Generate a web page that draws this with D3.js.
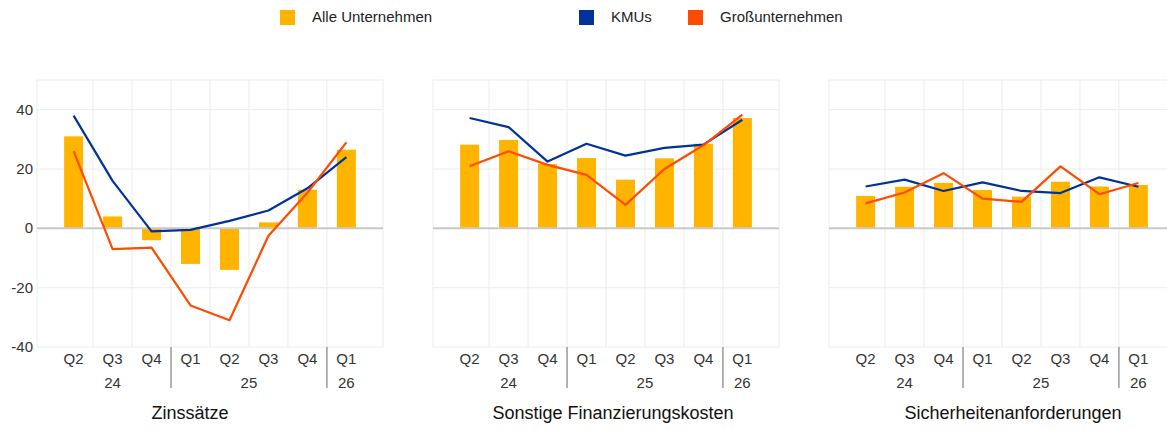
<!DOCTYPE html>
<html>
<head>
<meta charset="utf-8">
<script src="https://cdn.jsdelivr.net/npm/d3@7"></script>
<style>
  body { margin: 0; background: #fff; overflow: hidden; }
  svg { display: block; font-family: "Liberation Sans", Arial, sans-serif; }
</style>
</head>
<body>
<svg id="chart" width="1167" height="430"></svg>
<script>
// quarters and their years
const quarters = ["Q2", "Q3", "Q4", "Q1", "Q2", "Q3", "Q4", "Q1"];
const years = ["24", "24", "24", "25", "25", "25", "25", "26"];
const yTicks = [40, 20, 0, -20, -40];

const seriesNames = ["Alle Unternehmen", "KMUs", "Großunternehmen"];
const panelTitles = ["Zinssätze", "Sonstige Finanzierungskosten", "Sicherheitenanforderungen"];

// Alle Unternehmen (bars)
const allZins = [31, 4, -4, -12, -14, 2, 13, 26.5];
const allSonst = [28.2, 29.8, 21.7, 23.7, 16.4, 23.6, 28.5, 37.2];
const allSicher = [10.9, 14, 15.3, 12.9, 10.7, 15.7, 14.1, 14.6];

// KMUs
const kmuZins = [38, 16, -1, -0.5, 2.5, 6, 13.5, 24];
const kmuSonst = [37.2, 34.1, 22.5, 28.5, 24.5, 27.1, 28.2, 36.6];
const kmuSicher = [14.1, 16.4, 12.6, 15.5, 12.6, 11.9, 17.2, 14];

// Großunternehmen
const grossZins = [26, -7, -6.5, -26, -31, -2.5, 12, 29];
const grossSonst = [20.9, 26, 21.4, 18, 7.9, 20, 28, 38.3];
const grossSicher = [8.4, 12.1, 18.6, 10, 8.9, 20.9, 11.5, 15.3];

const panels = [
  { title: panelTitles[0], bars: allZins, kmu: kmuZins, gross: grossZins },
  { title: panelTitles[1], bars: allSonst, kmu: kmuSonst, gross: grossSonst },
  { title: panelTitles[2], bars: allSicher, kmu: kmuSicher, gross: grossSicher }
];

const COLORS = ["#FFB400", "#003299", "#FF4B00"];
const PANEL_LEFT = 37, PANEL_STEP = 396, PANEL_W = 346;
const TOP = 80, BOTTOM = 347;
const TITLE_SHIFT = [-20, 7, 11];

const svg = d3.select("#chart");

// legend
const legendX = [280, 579, 688];
const legend = svg.append("g");
seriesNames.forEach((name, i) => {
  legend.append("rect")
    .attr("x", legendX[i]).attr("y", 10)
    .attr("width", 15).attr("height", 15)
    .attr("fill", COLORS[i]);
  legend.append("text")
    .attr("x", legendX[i] + 32).attr("y", 22)
    .attr("font-size", 15).attr("fill", "#222")
    .text(name);
});

const y = d3.scaleLinear().domain([-40, 50]).range([BOTTOM, TOP]);
const idx = d3.range(quarters.length);

panels.forEach((p, pi) => {
  const left = PANEL_LEFT + pi * PANEL_STEP;
  const right = left + PANEL_W;
  const x = d3.scalePoint().domain(idx).range([left, right]).padding(0.94);
  const step = x.step();
  const g = svg.append("g");

  // horizontal grid
  g.selectAll(".hg").data([50, 40, 20, -20, -40]).join("line")
    .attr("x1", left).attr("x2", right)
    .attr("y1", d => y(d)).attr("y2", d => y(d))
    .attr("stroke", "#ececec").attr("stroke-width", 1);

  // vertical grid (band boundaries) and frame sides
  const vx = idx.slice(1).map(i => x(i) - step / 2).concat([left, right]);
  g.selectAll(".vg").data(vx).join("line")
    .attr("x1", d => d).attr("x2", d => d)
    .attr("y1", TOP).attr("y2", BOTTOM)
    .attr("stroke", "#ececec").attr("stroke-width", 1);

  // bars
  g.selectAll(".bar").data(p.bars).join("rect")
    .attr("x", (d, i) => x(i) - 9.5)
    .attr("width", 19)
    .attr("y", d => y(Math.max(0, d)))
    .attr("height", d => Math.abs(y(d) - y(0)))
    .attr("fill", COLORS[0]);

  // zero line
  g.append("line")
    .attr("x1", left).attr("x2", right)
    .attr("y1", y(0)).attr("y2", y(0))
    .attr("stroke", "#c8c8c8").attr("stroke-width", 2);

  // lines
  const line = d3.line().x((d, i) => x(i)).y(d => y(d));
  [[p.kmu, COLORS[1]], [p.gross, COLORS[2]]].forEach(([vals, c]) => {
    g.append("path").datum(vals)
      .attr("d", line)
      .attr("fill", "none")
      .attr("stroke", c).attr("stroke-width", 2.2)
      .attr("stroke-linejoin", "round");
  });

  // y axis labels (first panel only)
  if (pi === 0) {
    g.selectAll(".yt").data(yTicks).join("text")
      .attr("x", left - 4).attr("y", d => y(d) + 5)
      .attr("text-anchor", "end")
      .attr("font-size", 15).attr("fill", "#333")
      .text(d => d);
  }

  // quarter labels
  g.selectAll(".qt").data(quarters).join("text")
    .attr("x", (d, i) => x(i)).attr("y", 364)
    .attr("text-anchor", "middle")
    .attr("font-size", 15).attr("fill", "#333")
    .text(d => d);

  // year groups
  const groups = d3.groups(idx, i => years[i]);
  groups.forEach(([yr, members], gi) => {
    const cx = d3.mean(members, i => x(i));
    g.append("text")
      .attr("x", cx).attr("y", 388)
      .attr("text-anchor", "middle")
      .attr("font-size", 15).attr("fill", "#333")
      .text(yr);
    if (gi > 0) {
      const sx = x(members[0]) - step / 2;
      g.append("line")
        .attr("x1", sx).attr("x2", sx)
        .attr("y1", BOTTOM).attr("y2", 388)
        .attr("stroke", "#999").attr("stroke-width", 1.5);
    }
  });

  // panel title
  g.append("text")
    .attr("x", (left + right) / 2 + TITLE_SHIFT[pi]).attr("y", 419)
    .attr("text-anchor", "middle")
    .attr("font-size", 18).attr("fill", "#111")
    .text(p.title);
});
</script>
</body>
</html>
